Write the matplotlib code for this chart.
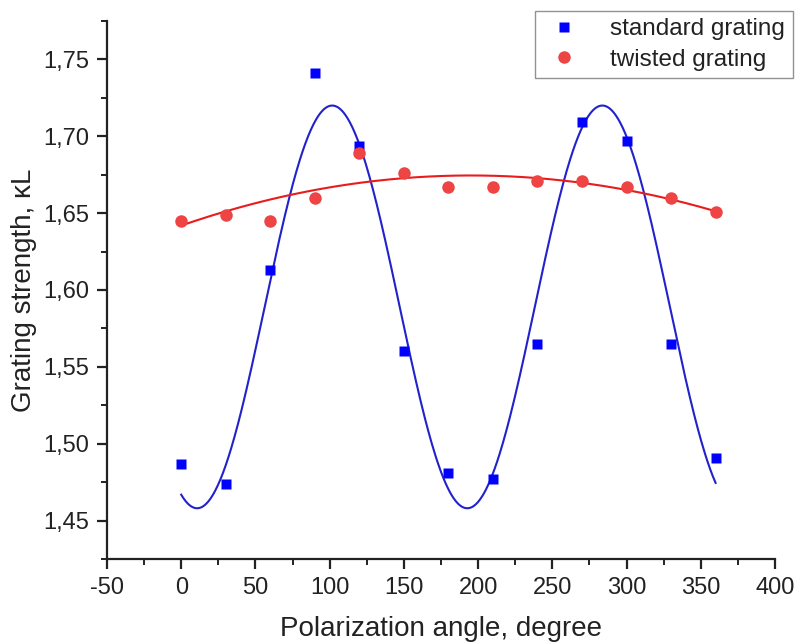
import numpy as np
import matplotlib
matplotlib.use("Agg")
import matplotlib.pyplot as plt
from matplotlib.ticker import FuncFormatter, MultipleLocator

plt.rcParams['font.family'] = ['Liberation Sans', 'DejaVu Sans']

# Measured grating strength vs polarization angle
angle = [0, 30, 60, 90, 120, 150, 180, 210, 240, 270, 300, 330, 360]
standard = [1.487, 1.474, 1.613, 1.741, 1.694, 1.560, 1.481, 1.477,
            1.565, 1.709, 1.697, 1.565, 1.491]
twisted = [1.645, 1.649, 1.645, 1.660, 1.689, 1.676, 1.667, 1.667,
           1.671, 1.671, 1.667, 1.660, 1.651]

# Fitted curve parameters
sine_offset, sine_amp, sine_period, sine_peak = 1.589, 0.131, 182.0, 101.7
parab_top, parab_k, parab_center = 1.6745, 8.56e-7, 195.1

fit_x = np.linspace(0, 360, 600)
fit_standard = sine_offset + sine_amp * np.cos(2 * np.pi * (fit_x - sine_peak) / sine_period)
fit_twisted = parab_top - parab_k * (fit_x - parab_center) ** 2

fig = plt.figure(figsize=(7.95, 6.42), dpi=100)
ax = fig.add_axes([0.1346, 0.1293, 0.8402, 0.838])

ax.plot(fit_x, fit_standard, color='#2222cc', lw=1.5, zorder=2)
ax.plot(fit_x, fit_twisted, color='#e81c1c', lw=1.5, zorder=2)
ax.plot(angle, standard, 's', color='#0000ff', ms=7.5, mec='none',
        label='standard grating', zorder=3)
ax.plot(angle, twisted, 'o', color='#ee4444', ms=9, mec='none',
        label='twisted grating', zorder=3)

ax.set_xlim(-50, 400)
ax.set_ylim(1.425, 1.775)
ax.xaxis.set_major_locator(MultipleLocator(50))
ax.xaxis.set_minor_locator(MultipleLocator(25))
ax.yaxis.set_major_locator(MultipleLocator(0.05))
ax.yaxis.set_minor_locator(MultipleLocator(0.025))
ax.yaxis.set_major_formatter(FuncFormatter(lambda v, p: f"{v:.2f}".replace('.', ',')))
ax.xaxis.set_major_formatter(FuncFormatter(lambda v, p: f"{v:.0f}"))

for s in ['top', 'right']:
    ax.spines[s].set_visible(False)
for s in ['left', 'bottom']:
    ax.spines[s].set_linewidth(1.6)
    ax.spines[s].set_color('#222222')

ax.tick_params(which='major', direction='out', length=7, width=1.6,
               labelsize=17, colors='#222222', pad=6)
ax.tick_params(which='minor', direction='out', length=4, width=1.4,
               colors='#222222')

ax.set_xlabel('Polarization angle, degree', fontsize=20, color='#222222', labelpad=12)
ax.set_ylabel('Grating strength, κL', fontsize=20, color='#222222', labelpad=4)

leg = fig.legend(loc='upper right', bbox_to_anchor=(1.0, 0.987), fontsize=17.5,
                 frameon=True, fancybox=False, edgecolor='#777777',
                 handletextpad=1.0, borderpad=0.3, labelspacing=0.35,
                 handlelength=1.8, borderaxespad=0.1)
for t in leg.get_texts():
    t.set_color('#222222')
leg.get_frame().set_linewidth(1.0)

fig.savefig('out.png', dpi=100)
